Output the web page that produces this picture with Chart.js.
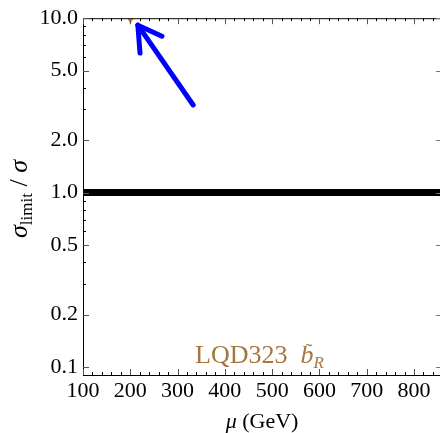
<!DOCTYPE html>
<html>
<head>
<meta charset="utf-8">
<script src="https://cdn.jsdelivr.net/npm/chart.js@4.4.1/dist/chart.umd.min.js"></script>
<style>
  html, body { margin: 0; padding: 0; background: #fff; }
  #wrap { width: 440px; height: 433px; position: relative; }
</style>
</head>
<body>
<div id="wrap"><canvas id="c" width="440" height="433"></canvas></div>
<script>
// ---- data ----
const xTickValues = [100, 200, 300, 400, 500, 600, 700, 800];
const xMinorStep = 20;
const xRange = [100, 855];
const yTickValues = [0.1, 0.2, 0.5, 1, 2, 5, 10];
const yTickLabels = ['0.1', '0.2', '0.5', '1.0', '2.0', '5.0', '10.0'];
const yRange = [0.09, 10];

const limitX = [100, 855];
const limitY = [1, 1];

const orangeX = [192, 200, 211];
const orangeY = [10.6, 9.6, 10.6];

const arrowShaftX = [333, 216];
const arrowShaftY = [3.18, 9.12];
const arrowHeadX = [267, 216, 220.6];
const arrowHeadY = [7.89, 9.12, 6.31];

const annotationLabel = 'LQD323';
const xTitle = ['\u03bc', ' (GeV)'];
const yTitle = ['\u03c3', 'limit', ' / ', '\u03c3'];

const pts = (xs, ys) => xs.map((x, i) => ({ x, y: ys[i] }));

const SERIF = '"Liberation Serif", "DejaVu Serif", serif';

const decor = {
  id: 'decor',
  afterDatasetsDraw(chart) {
    const { ctx, chartArea: a, scales: { x, y } } = chart;
    ctx.save();
    // top frame line
    ctx.strokeStyle = '#000';
    ctx.lineWidth = 1;
    ctx.beginPath();
    ctx.moveTo(a.left, a.top + 0.5);
    ctx.lineTo(a.right, a.top + 0.5);
    ctx.stroke();

    // x ticks (inward), bottom and top
    for (let v = xRange[0]; v <= xRange[1]; v += xMinorStep) {
      const px = Math.round(x.getPixelForValue(v)) + 0.5;
      const major = xTickValues.includes(v);
      const len = major ? 6 : 3;
      ctx.strokeStyle = major ? '#555' : '#000';
      ctx.beginPath();
      ctx.moveTo(px, a.bottom);
      ctx.lineTo(px, a.bottom - len);
      ctx.moveTo(px, a.top);
      ctx.lineTo(px, a.top + len);
      ctx.stroke();
    }
    // y ticks left (major + minor), right (major gray)
    for (let d = -2; d <= 1; d++) {
      for (let m = 1; m <= 9; m++) {
        const v = m * Math.pow(10, d);
        if (v < yRange[0] || v > yRange[1]) continue;
        const py = Math.round(y.getPixelForValue(v)) + 0.5;
        const major = yTickValues.some(t => Math.abs(t - v) < 1e-9);
        ctx.strokeStyle = major ? '#555' : '#000';
        ctx.beginPath();
        ctx.moveTo(a.left, py);
        ctx.lineTo(a.left + (major ? 6 : 3), py);
        ctx.stroke();
        if (major) {
          ctx.strokeStyle = '#777';
          ctx.beginPath();
          ctx.moveTo(a.right, py);
          ctx.lineTo(a.right - 4, py);
          ctx.stroke();
        }
      }
    }

    // annotation label
    ctx.fillStyle = '#a5763f';
    ctx.textBaseline = 'alphabetic';
    ctx.textAlign = 'left';
    ctx.font = '26px ' + SERIF;
    const lx = 195, ly = 363;
    ctx.fillText(annotationLabel, lx, ly);
    let w = ctx.measureText(annotationLabel + '  ').width;
    ctx.font = 'italic 26px ' + SERIF;
    const bx = lx + w;
    ctx.fillText('b', bx, ly);
    const bw = ctx.measureText('b').width;
    ctx.font = '22px ' + SERIF;
    ctx.textAlign = 'center';
    ctx.fillText('\u02dc', bx + bw / 2 + 2, ly - 5);
    ctx.textAlign = 'left';
    ctx.font = 'italic 17px ' + SERIF;
    ctx.fillText('R', bx + bw, ly + 5);

    // x title
    ctx.fillStyle = '#000';
    ctx.font = 'italic 22px ' + SERIF;
    const mw = ctx.measureText(xTitle[0]).width;
    ctx.font = '22px ' + SERIF;
    const gw = ctx.measureText(xTitle[1]).width;
    let tx = 262 - (mw + gw) / 2;
    const ty = 428;
    ctx.font = 'italic 22px ' + SERIF;
    ctx.fillText(xTitle[0], tx, ty);
    ctx.font = '22px ' + SERIF;
    ctx.fillText(xTitle[1], tx + mw, ty);

    // y title (rotated)
    ctx.save();
    ctx.translate(27, 199);
    ctx.rotate(-Math.PI / 2);
    const parts = [
      { t: yTitle[0], f: 'italic 26px ' + SERIF, dy: 0 },
      { t: yTitle[1], f: '17px ' + SERIF, dy: 5 },
      { t: yTitle[2], f: '26px ' + SERIF, dy: 0 },
      { t: yTitle[3], f: 'italic 26px ' + SERIF, dy: 0 }
    ];
    let total = 0;
    parts.forEach(p => { ctx.font = p.f; p.w = ctx.measureText(p.t).width; total += p.w; });
    let cx = -total / 2;
    parts.forEach(p => { ctx.font = p.f; ctx.fillText(p.t, cx, p.dy); cx += p.w; });
    ctx.restore();

    ctx.restore();
  }
};

new Chart(document.getElementById('c'), {
  type: 'scatter',
  data: {
    datasets: [
      { data: pts(limitX, limitY), showLine: true, borderColor: '#000', borderWidth: 7, pointRadius: 0, fill: false },
      { data: pts(orangeX, orangeY), showLine: true, borderColor: '#f08c00', borderWidth: 2.5, pointRadius: 0, fill: false },
      { data: pts(arrowShaftX, arrowShaftY), showLine: true, borderColor: '#0000ff', borderWidth: 5, pointRadius: 0, borderCapStyle: 'round', borderJoinStyle: 'round', fill: false, clip: false },
      { data: pts(arrowHeadX, arrowHeadY), showLine: true, borderColor: '#0000ff', borderWidth: 5, pointRadius: 0, borderCapStyle: 'round', borderJoinStyle: 'round', fill: false, clip: false }
    ]
  },
  options: {
    responsive: false,
    animation: false,
    events: [],
    layout: { padding: { top: 17, right: 0, left: 0, bottom: 0 } },
    plugins: { legend: { display: false }, tooltip: { enabled: false } },
    scales: {
      x: {
        type: 'linear',
        min: xRange[0], max: xRange[1],
        grid: { display: false, drawTicks: false },
        border: { display: true, color: '#000', width: 1 },
        afterBuildTicks: s => { s.ticks = xTickValues.map(v => ({ value: v })); },
        afterFit: s => { s.height = 58; },
        ticks: { color: '#000', font: { family: SERIF, size: 22 }, padding: 3, maxRotation: 0, autoSkip: false }
      },
      y: {
        type: 'logarithmic',
        min: yRange[0], max: yRange[1],
        grid: { display: false, drawTicks: false },
        border: { display: true, color: '#000', width: 1 },
        afterBuildTicks: s => { s.ticks = yTickValues.map(v => ({ value: v })); },
        afterFit: s => { s.width = 83; },
        ticks: {
          color: '#000', font: { family: SERIF, size: 22 }, padding: 5, autoSkip: false,
          callback: (v) => { const i = yTickValues.findIndex(t => Math.abs(t - v) < 1e-9); return i >= 0 ? yTickLabels[i] : ''; }
        }
      }
    }
  },
  plugins: [decor]
});
</script>
</body>
</html>
